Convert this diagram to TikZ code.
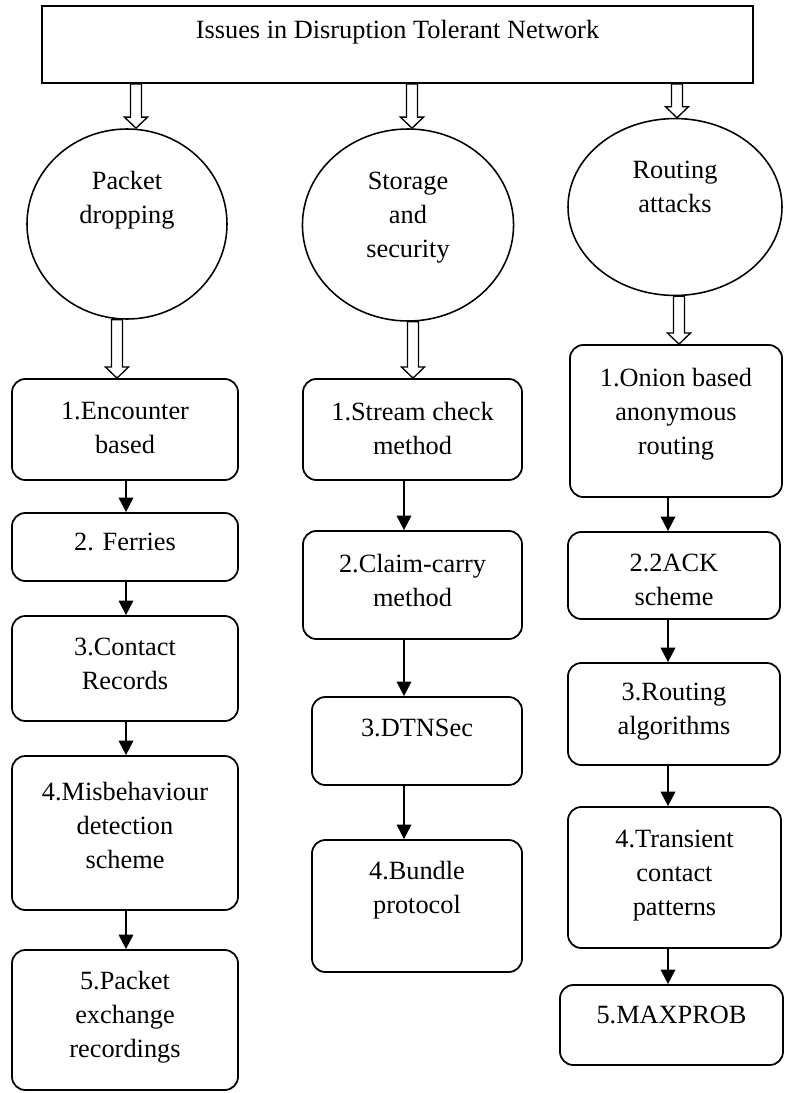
\documentclass[tikz,border=0pt]{standalone}
\usepackage{fontspec}
\setmainfont{Liberation Serif}
\usetikzlibrary{calc,arrows.meta,shapes.geometric}
\tikzset{
  rbox/.style={draw, line width=0.8pt, rounded corners=6pt, rectangle, inner sep=0pt},
  titlebox/.style={draw, line width=0.9pt, rectangle, inner sep=0pt},
  ellip/.style={draw, line width=0.7pt, ellipse, inner sep=0pt},
  txt/.style={align=center, inner sep=0pt, font=\fontsize{11.85}{15.3}\selectfont},
  arr/.style={line width=0.9pt, -{Triangle[length=6.5pt,width=6.5pt]}},
  hollow/.style={draw, line width=0.6pt, fill=white}
}
\newcommand{\rectbox}[8]{%
  \node[#8, minimum width={(#4-#2)*0.45pt}, minimum height={(#5-#3)*0.45pt}] (#1) at ({(#2+#4)/2},{(#3+#5)/2}) {};
  \node[txt] (#1t) at ({(#2+#4)/2},#6) {#7};}
\newcommand{\hollowarrow}[2]{%
  \draw[hollow] let \p1=(#1), \p2=(#2) in
    ({\x1-2.5pt},\y1) -- ({\x1-2.5pt},{\y2+5pt}) -- ({\x1-5.2pt},{\y2+5pt}) -- (\x1,\y2)
    -- ({\x1+5.2pt},{\y2+5pt}) -- ({\x1+2.5pt},{\y2+5pt}) -- ({\x1+2.5pt},\y1) -- cycle;}
\begin{document}
\begin{tikzpicture}[x=0.45pt,y=-0.45pt]
\useasboundingbox (0,0) rectangle (788,1093);

% title
\rectbox{title}{42}{6}{753}{83}{32}{Issues in Disruption Tolerant Network}{titlebox}

% ellipses
\node[ellip, minimum width=90pt, minimum height=85.5pt] (c1) at (127,224) {};
\node[txt] (c1t) at (127,200) {Packet\\dropping};
\node[ellip, minimum width=95pt, minimum height=86.4pt] (c2) at (408,225) {};
\node[txt] (c2t) at (408,218) {Storage\\and\\security};
\node[ellip, minimum width=96.3pt, minimum height=79.6pt] (c3) at (675,207) {};
\node[txt] (c3t) at (675,186.5) {Routing\\attacks};

% left column
\rectbox{l1}{12}{379}{238}{480}{427.5}{1.Encounter\\based}{rbox}
\rectbox{l2}{12}{513}{238}{581}{542}{2. Ferries}{rbox}
\rectbox{l3}{12}{616}{238}{721}{664}{3.Contact\\Records}{rbox}
\rectbox{l4}{12}{756}{238}{910}{825}{4.Misbehaviour\\detection\\scheme}{rbox}
\rectbox{l5}{12}{950}{238}{1090}{1017.5}{5.Packet\\exchange\\recordings}{rbox}

% middle column
\rectbox{m1}{303}{379}{522}{480}{428.5}{1.Stream check\\method}{rbox}
\rectbox{m2}{303}{531}{522}{639}{580}{2.Claim-carry\\method}{rbox}
\rectbox{m3}{312}{697}{522}{785}{728}{3.DTNSec}{rbox}
\rectbox{m4}{312}{840}{522}{972}{890}{4.Bundle\\protocol}{rbox}

% right column
\rectbox{r1}{570}{345}{782}{497}{414}{1.Onion based\\anonymous\\routing}{rbox}
\rectbox{r2}{568}{532}{780}{619}{580}{2.2ACK\\scheme}{rbox}
\rectbox{r3}{568}{663}{780}{765}{711.5}{3.Routing\\algorithms}{rbox}
\rectbox{r4}{568}{807}{781}{948}{876}{4.Transient\\contact\\patterns}{rbox}
\rectbox{r5}{560}{985}{783}{1065}{1015}{5.MAXPROB}{rbox}

% x positions of connectors
\coordinate (hx1) at (136,0);
\coordinate (hx2) at (412,0);
\coordinate (hx3) at (677,0);
\coordinate (hx4) at (117,0);
\coordinate (hx5) at (413,0);
\coordinate (hx6) at (679,0);
\coordinate (ax1) at (126,0);
\coordinate (ax2) at (404,0);
\coordinate (ax3) at (668,0);

% hollow arrows
\hollowarrow{title.south -| hx1}{c1.north -| hx1}
\hollowarrow{title.south -| hx2}{c2.north -| hx2}
\hollowarrow{title.south -| hx3}{c3.north -| hx3}
\hollowarrow{c1.south -| hx4}{l1.north -| hx4}
\hollowarrow{c2.south -| hx5}{m1.north -| hx5}
\hollowarrow{c3.south -| hx6}{r1.north -| hx6}

% solid arrows
\draw[arr] (l1.south -| ax1) -- (l2.north -| ax1);
\draw[arr] (l2.south -| ax1) -- (l3.north -| ax1);
\draw[arr] (l3.south -| ax1) -- (l4.north -| ax1);
\draw[arr] (l4.south -| ax1) -- (l5.north -| ax1);
\draw[arr] (m1.south -| ax2) -- (m2.north -| ax2);
\draw[arr] (m2.south -| ax2) -- (m3.north -| ax2);
\draw[arr] (m3.south -| ax2) -- (m4.north -| ax2);
\draw[arr] (r1.south -| ax3) -- (r2.north -| ax3);
\draw[arr] (r2.south -| ax3) -- (r3.north -| ax3);
\draw[arr] (r3.south -| ax3) -- (r4.north -| ax3);
\draw[arr] (r4.south -| ax3) -- (r5.north -| ax3);
\end{tikzpicture}
\end{document}
